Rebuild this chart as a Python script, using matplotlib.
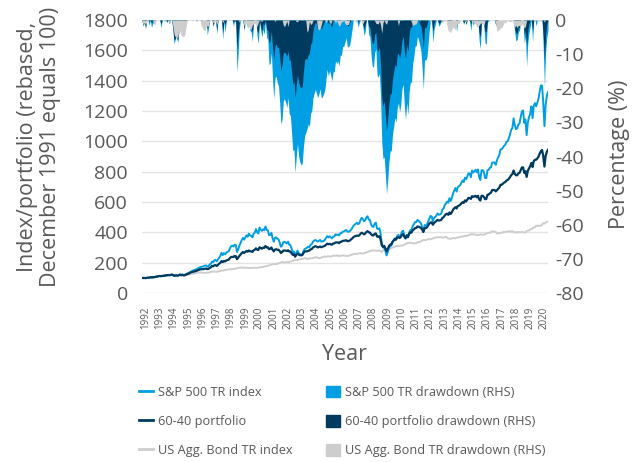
import numpy as np
import matplotlib
matplotlib.use("Agg")
import matplotlib.pyplot as plt
from matplotlib.lines import Line2D
from matplotlib.patches import Patch

plt.rcParams['font.family'] = ['Open Sans', 'DejaVu Sans']
plt.rcParams['axes.unicode_minus'] = False

# Month-end values, Dec 1991 = 100, through Jun 2020
sp500 = [100.0,
    98.26, 99.44, 97.52, 100.47, 100.84, 99.31, 103.49, 101.25, 102.43, 102.90, 106.28, 107.60,
    108.62, 110.02, 112.35, 109.75, 112.50, 112.84, 112.50, 116.67, 115.76, 118.28, 117.03, 118.50,
    122.63, 119.22, 114.05, 115.65, 117.34, 114.47, 118.35, 123.08, 120.05, 122.85, 118.26, 120.00,
    123.16, 127.89, 131.66, 135.63, 140.87, 144.19, 149.08, 149.35, 155.66, 155.21, 161.93, 165.10,
    170.81, 172.32, 174.02, 176.70, 181.07, 181.82, 173.82, 177.44, 187.40, 192.67, 207.18, 203.10,
    215.91, 217.50, 208.54, 221.05, 234.37, 244.91, 264.45, 249.63, 263.29, 254.58, 266.34, 270.90,
    274.03, 293.69, 308.78, 311.97, 306.47, 318.95, 315.67, 269.98, 287.18, 310.64, 329.40, 348.40,
    363.06, 351.70, 365.75, 380.01, 370.88, 391.48, 379.32, 377.33, 366.94, 390.28, 398.16, 421.60,
    400.53, 392.83, 431.25, 418.35, 409.59, 419.80, 413.32, 438.84, 415.75, 414.10, 381.28, 383.20,
    396.92, 360.67, 337.88, 364.26, 366.49, 357.72, 354.25, 331.91, 305.10, 310.98, 334.72, 337.60,
    332.81, 326.33, 338.81, 318.42, 315.96, 293.48, 270.66, 272.37, 242.72, 264.07, 279.50, 263.00,
    256.19, 252.23, 254.71, 275.77, 290.26, 293.99, 299.20, 305.01, 301.84, 318.90, 321.65, 338.50,
    344.84, 349.55, 344.35, 339.06, 343.66, 350.34, 338.82, 340.08, 343.78, 349.10, 363.08, 375.40,
    366.50, 373.98, 367.40, 360.57, 371.93, 372.43, 386.43, 382.65, 385.90, 379.63, 393.59, 393.80,
    404.47, 405.32, 410.46, 416.09, 403.88, 404.55, 407.25, 416.55, 427.49, 441.62, 449.59, 456.00,
    463.13, 453.74, 459.01, 479.63, 496.01, 487.96, 473.09, 479.92, 497.89, 506.05, 484.50, 481.10,
    452.58, 437.70, 435.99, 457.64, 463.45, 424.45, 421.11, 427.07, 389.10, 323.82, 300.15, 303.10,
    277.72, 247.69, 269.39, 295.29, 311.57, 312.28, 336.13, 348.10, 361.26, 354.84, 375.93, 383.40,
    369.85, 381.04, 404.13, 410.81, 377.77, 358.02, 383.30, 365.72, 398.44, 413.84, 413.59, 441.30,
    452.10, 467.36, 467.69, 481.86, 476.19, 468.28, 459.05, 433.72, 403.29, 447.50, 446.03, 450.60,
    471.11, 491.19, 507.54, 504.67, 473.95, 493.65, 500.78, 511.66, 525.05, 515.62, 518.06, 522.70,
    550.03, 557.12, 578.22, 589.74, 603.03, 595.07, 625.60, 607.12, 626.31, 655.37, 674.95, 692.10,
    668.62, 698.67, 704.69, 710.31, 726.49, 741.58, 731.66, 760.51, 749.99, 768.71, 788.89, 786.90,
    763.85, 807.20, 794.57, 802.75, 812.63, 796.99, 814.19, 764.52, 745.59, 808.91, 810.71, 797.90,
    758.81, 757.09, 808.55, 812.28, 826.28, 828.56, 859.64, 860.19, 860.71, 845.57, 876.05, 893.60,
    911.13, 946.57, 947.77, 957.97, 970.65, 976.94, 997.48, 999.68, 1020.66, 1045.01, 1076.09, 1088.40,
    1151.46, 1108.42, 1080.39, 1085.09, 1110.34, 1117.51, 1159.61, 1196.64, 1203.71, 1121.94, 1143.86, 1040.50,
    1124.31, 1159.69, 1182.48, 1231.02, 1152.03, 1233.50, 1251.80, 1231.21, 1254.44, 1282.23, 1328.11, 1368.30,
    1368.29, 1255.21, 1099.93, 1241.38, 1299.67, 1325.70]

port6040 = [100.0,
    98.40, 99.39, 98.00, 100.06, 101.05, 100.69, 104.05, 103.14, 104.37, 104.11, 106.16, 107.59,
    109.04, 110.64, 112.25, 111.02, 112.73, 113.73, 113.80, 117.12, 116.70, 118.43, 117.27, 118.38,
    121.52, 118.64, 114.38, 114.98, 115.99, 114.17, 117.42, 120.28, 117.80, 119.40, 116.59, 117.96,
    120.77, 124.67, 127.21, 130.19, 135.22, 137.52, 140.19, 141.05, 145.14, 145.65, 150.33, 152.98,
    156.58, 156.30, 156.81, 157.88, 160.07, 161.33, 157.22, 159.09, 165.53, 169.78, 178.63, 175.91,
    182.77, 183.74, 178.41, 185.90, 193.32, 199.47, 211.16, 203.39, 211.22, 208.26, 214.42, 217.49,
    220.10, 229.52, 236.89, 238.83, 237.21, 243.78, 242.51, 223.04, 233.63, 244.59, 254.03, 263.15,
    270.52, 263.57, 270.45, 277.10, 272.11, 280.85, 275.15, 274.22, 270.96, 281.69, 285.10, 294.68,
    285.43, 283.52, 301.64, 295.88, 292.09, 298.87, 297.23, 309.95, 300.93, 301.02, 288.65, 291.71,
    299.88, 284.47, 274.29, 286.69, 288.41, 284.69, 285.57, 276.09, 263.99, 269.24, 280.09, 280.82,
    279.36, 277.15, 281.67, 273.67, 273.37, 262.65, 251.65, 254.32, 239.32, 251.52, 260.27, 253.24,
    249.37, 248.45, 249.82, 263.06, 273.29, 275.18, 274.44, 278.34, 279.54, 288.01, 289.74, 300.08,
    304.43, 308.24, 306.42, 300.38, 302.36, 306.56, 301.75, 304.71, 307.06, 310.96, 317.43, 325.02,
    321.22, 324.40, 320.31, 318.45, 325.84, 326.85, 333.00, 332.80, 333.17, 328.84, 336.70, 338.01,
    343.55, 344.41, 345.68, 348.24, 341.94, 342.56, 345.78, 352.63, 359.43, 367.52, 373.22, 375.53,
    378.98, 376.74, 379.38, 390.42, 397.25, 392.88, 386.95, 392.17, 402.21, 407.60, 400.10, 398.90,
    387.37, 380.01, 379.59, 390.60, 392.40, 372.39, 370.53, 375.09, 353.07, 314.20, 304.52, 310.91,
    294.21, 274.64, 290.62, 307.94, 319.00, 320.18, 336.86, 345.45, 354.74, 351.65, 366.14, 368.15,
    362.59, 369.73, 382.97, 388.33, 370.86, 361.55, 378.25, 369.78, 389.82, 399.45, 398.41, 412.87,
    419.15, 428.04, 428.34, 438.32, 437.53, 432.63, 430.29, 418.59, 402.18, 428.80, 427.77, 432.22,
    445.45, 456.85, 465.03, 465.50, 450.05, 461.39, 468.22, 474.40, 482.13, 477.31, 478.98, 481.14,
    494.90, 499.70, 511.24, 519.42, 522.69, 515.32, 531.40, 520.88, 532.65, 549.22, 558.28, 565.71,
    557.51, 573.62, 576.20, 580.87, 591.27, 598.84, 593.51, 610.13, 603.72, 615.49, 626.88, 625.81,
    620.05, 638.84, 634.05, 637.03, 641.17, 630.98, 640.95, 617.17, 609.70, 640.73, 640.92, 633.93,
    618.78, 619.65, 647.22, 649.81, 656.57, 662.35, 678.91, 678.91, 679.05, 669.75, 677.92, 686.67,
    695.25, 713.33, 713.76, 720.61, 728.54, 731.09, 741.54, 745.17, 753.14, 764.14, 777.28, 784.04,
    807.64, 786.48, 776.49, 776.18, 789.22, 791.98, 809.96, 827.54, 828.45, 792.08, 803.25, 765.50,
    805.77, 820.76, 836.76, 857.43, 830.42, 869.86, 878.38, 878.82, 886.91, 899.77, 918.93, 935.47,
    942.67, 902.79, 833.55, 903.40, 930.59, 944.55]

agg_bond = [100.0,
    98.6, 99.3, 98.7, 99.4, 101.3, 102.7, 104.8, 105.9, 107.2, 105.8, 105.8, 107.4,
    109.5, 111.4, 111.9, 112.7, 112.8, 114.8, 115.5, 117.5, 117.8, 118.3, 117.3, 117.87,
    119.5, 117.4, 114.5, 113.6, 113.6, 113.3, 115.6, 115.7, 114.0, 113.9, 113.6, 114.43,
    116.7, 119.4, 120.2, 121.8, 126.5, 127.4, 127.1, 128.7, 129.9, 131.6, 133.6, 135.57,
    136.5, 134.1, 133.2, 132.4, 132.1, 133.9, 134.2, 134.0, 136.3, 139.3, 141.7, 140.49,
    140.9, 141.2, 139.7, 141.8, 143.1, 144.8, 148.7, 147.5, 149.6, 151.8, 152.5, 154.05,
    156.0, 155.9, 156.4, 157.2, 158.7, 160.0, 160.4, 163.0, 166.8, 165.9, 166.9, 167.44,
    168.6, 165.7, 166.6, 167.1, 165.6, 165.1, 164.4, 164.3, 166.2, 166.8, 166.8, 166.07,
    165.5, 167.5, 169.7, 169.2, 169.1, 172.6, 174.2, 176.7, 177.8, 179.0, 181.9, 185.38,
    188.4, 190.0, 191.0, 190.2, 191.3, 192.0, 196.3, 198.6, 200.9, 205.1, 202.3, 201.03,
    202.7, 204.6, 201.2, 205.1, 206.9, 208.7, 211.2, 214.8, 218.2, 217.2, 217.1, 221.65,
    221.8, 224.9, 224.7, 226.6, 230.8, 230.3, 222.6, 224.0, 229.9, 227.8, 228.3, 230.74,
    232.6, 235.1, 236.9, 230.7, 229.8, 231.1, 233.4, 237.8, 238.5, 240.5, 238.6, 240.75,
    242.3, 240.9, 239.7, 242.9, 245.5, 246.9, 244.6, 247.8, 245.3, 243.3, 244.4, 246.6,
    246.7, 247.5, 245.1, 244.6, 244.3, 244.8, 248.1, 251.9, 254.1, 255.8, 258.8, 257.28,
    257.2, 261.2, 261.2, 262.6, 260.6, 259.8, 261.9, 265.1, 267.2, 269.6, 274.4, 275.21,
    279.8, 280.3, 281.2, 280.6, 278.5, 278.2, 278.0, 280.6, 276.8, 270.3, 279.1, 289.63,
    287.1, 285.9, 289.9, 291.3, 293.4, 295.1, 299.7, 302.8, 306.0, 307.5, 311.8, 306.81,
    311.5, 312.7, 312.3, 315.5, 318.1, 323.1, 326.2, 330.4, 330.8, 332.0, 330.1, 326.87,
    327.3, 328.1, 328.3, 332.5, 336.9, 335.9, 341.3, 346.3, 348.8, 349.2, 348.8, 352.5,
    355.4, 355.4, 353.5, 357.4, 360.4, 360.6, 366.2, 366.4, 366.9, 367.6, 368.2, 367.34,
    364.8, 366.6, 366.9, 370.6, 363.9, 358.3, 358.7, 356.8, 360.1, 363.0, 361.7, 359.92,
    365.2, 367.0, 366.4, 369.4, 373.3, 373.6, 372.8, 376.9, 374.8, 379.0, 381.6, 381.41,
    389.4, 385.7, 387.5, 386.1, 385.2, 381.0, 383.7, 383.2, 385.9, 385.9, 384.9, 383.5,
    388.8, 391.5, 395.1, 396.3, 396.4, 403.5, 406.0, 405.6, 405.4, 402.2, 392.8, 393.67,
    394.4, 397.0, 396.8, 399.9, 403.0, 402.6, 404.3, 407.9, 406.0, 406.3, 405.7, 407.6,
    402.9, 399.1, 401.6, 398.6, 401.4, 401.0, 401.1, 403.7, 401.2, 398.0, 400.4, 407.64,
    412.0, 411.7, 419.6, 419.7, 427.1, 432.5, 433.5, 444.7, 442.3, 443.6, 443.4, 443.19,
    451.7, 459.9, 457.1, 464.7, 466.9, 470.4]

years = list(range(1992, 2021))
series_names = ["S&P 500 TR index", "60-40 portfolio", "US Agg. Bond TR index"]
drawdown_names = ["S&P 500 TR drawdown (RHS)", "60-40 portfolio drawdown (RHS)",
                  "US Agg. Bond TR drawdown (RHS)"]

C_SP = "#009fe3"
C_PF = "#003a5f"
C_BD = "#cdcdcd"
TXT = "#595959"

n = len(sp500)
t = 1992 + np.arange(n) / 12.0   # month-end dates (Dec 1991 ... Jun 2020)


def drawdown(v):
    v = np.asarray(v, dtype=float)
    return (v / np.maximum.accumulate(v) - 1.0) * 100.0


fig = plt.figure(figsize=(6.38, 4.62), dpi=100)
W, H = 638.0, 462.0
L, R, T, B = 142, 548, 20, 293
ax = fig.add_axes([L / W, 1 - B / H, (R - L) / W, (B - T) / H])

ax.set_xlim(t[0], t[-1])
ax.set_ylim(0, 1800)
ax.set_yticks(range(0, 1801, 200))
ax.yaxis.grid(True, color="#e4e4e4", lw=1.0)
ax.set_axisbelow(True)
ax.set_xticks([y + 0.25 for y in years])
ax.set_xticklabels([str(y) for y in years], rotation=90, fontsize=7, color=TXT)
ax.tick_params(axis="x", length=0, pad=10)
ax.tick_params(axis="y", length=0, pad=10, labelsize=14, labelcolor=TXT)
for s in ax.spines.values():
    s.set_visible(False)

# drawdowns (right axis)
ax2 = ax.twinx()
ax2.set_ylim(-80, 0)
ax2.set_yticks(range(-80, 1, 10))
ax2.tick_params(axis="y", length=0, pad=5, labelsize=14, labelcolor=TXT)
for s in ax2.spines.values():
    s.set_visible(False)
ax2.fill_between(t, drawdown(sp500), 0, color=C_SP, lw=0)
ax2.fill_between(t, drawdown(port6040), 0, color=C_PF, lw=0)
ax2.fill_between(t, drawdown(agg_bond), 0, color=C_BD, lw=0)

# index lines (top layer, left scale)
ax3 = ax.twinx()
ax3.set_ylim(0, 1800)
ax3.set_axis_off()
ax3.plot(t, agg_bond, color=C_BD, lw=1.4)
ax3.plot(t, sp500, color=C_SP, lw=1.4)
ax3.plot(t, port6040, color=C_PF, lw=1.6)

fig.text(39 / W, 1 - 147 / H, "Index/portfolio (rebased,\nDecember 1991 equals 100)",
         rotation=90, ha="center", va="center", fontsize=15.5, color=TXT,
         multialignment="center", linespacing=1.12)
fig.text(619 / W, 1 - 154 / H, "Percentage (%)", rotation=90, ha="center",
         va="center", fontsize=15.5, color=TXT)
fig.text(345 / W, 1 - 355 / H, "Year", ha="center", va="center", fontsize=15.5, color=TXT)

handles = [Line2D([], [], color=C_SP, lw=2),
           Line2D([], [], color=C_PF, lw=2),
           Line2D([], [], color=C_BD, lw=2),
           Patch(color=C_SP), Patch(color=C_PF), Patch(color=C_BD)]
labels = series_names + drawdown_names
fig.legend(handles, labels, loc="upper left", bbox_to_anchor=(139 / W, 1 - 386 / H),
           ncol=2, frameon=False, fontsize=9.2, labelcolor=TXT, borderpad=0,
           borderaxespad=0, handlelength=1.1, handleheight=1.0, handletextpad=0.4,
           labelspacing=1.25, columnspacing=2.6)

fig.savefig("out.png", dpi=100, facecolor="white")
